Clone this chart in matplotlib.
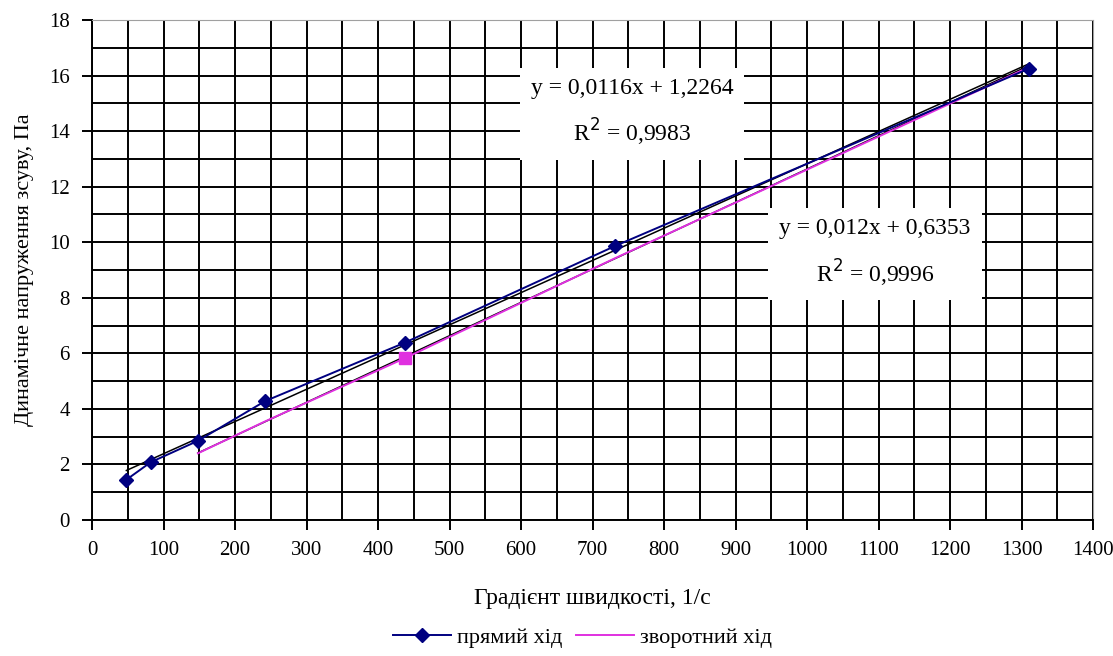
import matplotlib
matplotlib.use("Agg")
import matplotlib.pyplot as plt
from matplotlib.lines import Line2D
import numpy as np

plt.rcParams['font.family'] = ['Liberation Serif', 'DejaVu Serif']

# прямий хід
x_fwd = [48, 82, 148, 242, 437, 731, 1310]
y_fwd = [1.45, 2.08, 2.85, 4.28, 6.38, 9.86, 16.25]
# зворотний хід
x_back = [148, 242, 437, 731, 1310]
y_back = [2.40, 3.55, 5.82, 9.42, 16.30]

trend1 = (0.0116, 1.2264, "y = 0,0116x + 1,2264\nR$^2$ = 0,9983")
trend2 = (0.012, 0.6353, "y = 0,012x + 0,6353\nR$^2$ = 0,9996")

fig = plt.figure(figsize=(11.13, 6.56), dpi=100)
ax = fig.add_axes([0.0827, 0.2073, 0.8995, 0.7622])

ax.set_xlim(0, 1400)
ax.set_ylim(0, 18)
ax.set_xticks(np.arange(0, 1401, 100))
ax.set_yticks(np.arange(0, 19, 2))
ax.set_xticks(np.arange(0, 1401, 50), minor=True)
ax.set_yticks(np.arange(0, 19, 1), minor=True)
ax.grid(which='both', color='black', linewidth=1.4)
ax.tick_params(which='major', direction='out', length=7, width=1.4, labelsize=15,
               colors='black')
ax.tick_params(axis='x', pad=8)
ax.tick_params(axis='y', pad=9)
ax.tick_params(which='minor', length=0)
for s in ['top', 'right']:
    ax.spines[s].set_color('#a0a0a0')
for s in ['left', 'bottom']:
    ax.spines[s].set_linewidth(1.4)
ax.set_axisbelow(True)

# trend lines
xt1 = np.array([min(x_fwd), max(x_fwd)])
ax.plot(xt1, trend1[0] * xt1 + trend1[1], color='black', lw=1.1, zorder=3)
xt2 = np.array([min(x_back), max(x_back)])
ax.plot(xt2, trend2[0] * xt2 + trend2[1], color='black', lw=1.1, zorder=3)

ax.plot(x_back, y_back, color='#e030e0', lw=1.4, marker='s', markersize=8,
        markevery=[2], zorder=4)
ax.plot(x_fwd, y_fwd, color='#000080', lw=1.4, marker='D', markersize=7, zorder=5)

ax.text(755, 14.65, trend1[2], ha='center', va='center', fontsize=17,
        linespacing=1.75, zorder=6,
        bbox=dict(facecolor='white', edgecolor='none', pad=8))
ax.text(1095, 9.6, trend2[2], ha='center', va='center', fontsize=17,
        linespacing=1.75, zorder=6,
        bbox=dict(facecolor='white', edgecolor='none', pad=8))

ax.set_xlabel("Градієнт швидкості, 1/с", fontsize=17, labelpad=20)
ax.set_ylabel("Динамічне напруження зсуву, Па", fontsize=16, labelpad=11)

handles = [Line2D([], [], color='#000080', lw=1.4, marker='D', markersize=7),
           Line2D([], [], color='#e030e0', lw=1.4)]
ax.legend(handles, ['прямий хід', 'зворотний хід'], loc='center',
          bbox_to_anchor=(0.49, -0.235), ncol=2, frameon=False, fontsize=16,
          handlelength=2.6, columnspacing=0.6, handletextpad=0.3)

fig.savefig("out.png", dpi=100)
